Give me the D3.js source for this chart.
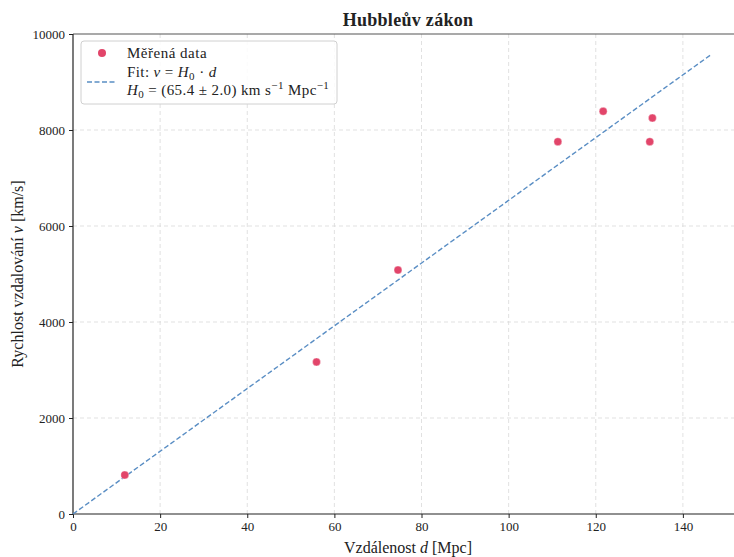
<!DOCTYPE html>
<html><head><meta charset="utf-8">
<script src="https://cdn.jsdelivr.net/npm/d3@7"></script>
<style>
body{margin:0;background:#fff;}
text{font-family:"Liberation Serif","DejaVu Serif",serif;fill:#222;}
</style></head>
<body><svg id="c" width="734" height="557"></svg>
<script>
const distances = [11.9, 55.9, 74.6, 111.3, 121.7, 132.4, 133.0];
const velocities = [812, 3167, 5083, 7756, 8390, 7756, 8250];
const fitD = [0, 146.3];
const fitV = [0, 9560];
const xTicks = [0, 20, 40, 60, 80, 100, 120, 140];
const yTicks = [0, 2000, 4000, 6000, 8000, 10000];

const svg = d3.select("#c");
const L = 73, R = 743, T = 34, B = 514;
const x = d3.scaleLinear().domain([0, 153.8]).range([L, R]);
const y = d3.scaleLinear().domain([0, 10000]).range([B, T]);

// grid
const g = svg.append("g");
g.selectAll(".gx").data(xTicks.filter(t => t > 0)).enter().append("line")
  .attr("x1", d => x(d)).attr("x2", d => x(d)).attr("y1", T).attr("y2", B)
  .attr("stroke", "#d9d9d9").attr("stroke-width", 0.8).attr("stroke-dasharray", "4,3");
g.selectAll(".gy").data(yTicks.filter(t => t > 0 && t < 10000)).enter().append("line")
  .attr("x1", L).attr("x2", R).attr("y1", d => y(d)).attr("y2", d => y(d))
  .attr("stroke", "#d9d9d9").attr("stroke-width", 0.8).attr("stroke-dasharray", "4,3");

// top spine
svg.append("line").attr("x1", L).attr("x2", R).attr("y1", T).attr("y2", T)
  .attr("stroke", "#555").attr("stroke-width", 1.2);

// axes
const xAxis = d3.axisBottom(x).tickValues(xTicks).tickSize(4).tickPadding(4).tickFormat(d3.format("d"));
const yAxis = d3.axisLeft(y).tickValues(yTicks).tickSize(4).tickPadding(4).tickFormat(d3.format("d"));
const gx = svg.append("g").attr("transform", `translate(0,${B})`).call(xAxis);
const gy = svg.append("g").attr("transform", `translate(${L},0)`).call(yAxis);
[gx, gy].forEach(a => {
  a.select(".domain").attr("stroke", "#222").attr("stroke-width", 1.2);
  a.selectAll(".tick line").attr("stroke", "#222").attr("stroke-width", 1);
  a.selectAll(".tick text").style("font-family", '"Liberation Serif",serif').style("font-size", "13px").attr("fill", "#222");
});
gy.select(".domain").attr("d", `M0,${T}V${B}`);
gx.select(".domain").attr("d", `M${L},0H${R}`);

// fit line
svg.append("path")
  .datum(fitD.map((d, i) => [d, fitV[i]]))
  .attr("d", d3.line().x(d => x(d[0])).y(d => y(d[1])))
  .attr("fill", "none").attr("stroke", "#5a8ec4").attr("stroke-width", 1.4)
  .attr("stroke-dasharray", "5,2.5");

// points
svg.selectAll(".pt").data(distances).enter().append("circle")
  .attr("cx", d => x(d)).attr("cy", (d, i) => y(velocities[i])).attr("r", 4)
  .attr("fill", "#e2456a").attr("stroke", "#fff").attr("stroke-opacity", 0.6).attr("stroke-width", 0.6);

// title
svg.append("text").attr("x", (L + R) / 2).attr("y", 26).attr("text-anchor", "middle")
  .style("font-size", "18px").style("font-weight", "bold").style("letter-spacing", "0.3px").text("Hubbleův zákon");

// x label
const xl = svg.append("text").attr("x", (L + R) / 2).attr("y", 553).attr("text-anchor", "middle")
  .style("font-size", "16px");
xl.append("tspan").text("Vzdálenost ");
xl.append("tspan").style("font-style", "italic").text("d");
xl.append("tspan").text(" [Mpc]");

// y label
const yl = svg.append("text").attr("transform", `translate(23,${(T + B) / 2}) rotate(-90)`)
  .attr("text-anchor", "middle").style("font-size", "16px");
yl.append("tspan").text("Rychlost vzdalování ");
yl.append("tspan").style("font-style", "italic").text("v");
yl.append("tspan").text(" [km/s]");

// legend
const lg = svg.append("g");
lg.append("rect").attr("x", 81).attr("y", 41).attr("width", 256).attr("height", 63)
  .attr("rx", 3).attr("fill", "#fff").attr("fill-opacity", 0.85).attr("stroke", "#d0d0d0").attr("stroke-width", 1);
lg.append("circle").attr("cx", 102).attr("cy", 53).attr("r", 4).attr("fill", "#e2456a");
lg.append("line").attr("x1", 87).attr("x2", 116).attr("y1", 82).attr("y2", 82)
  .attr("stroke", "#5a8ec4").attr("stroke-width", 1.4).attr("stroke-dasharray", "5,2.5");
lg.append("text").attr("x", 127).attr("y", 58).style("font-size", "15px").style("letter-spacing", "0.5px").text("Měřená data");
const t2 = lg.append("text").attr("x", 127).attr("y", 77).style("font-size", "15px").style("letter-spacing", "0.4px");
t2.append("tspan").text("Fit: ");
t2.append("tspan").style("font-style", "italic").text("v");
t2.append("tspan").text(" = ");
t2.append("tspan").style("font-style", "italic").text("H");
t2.append("tspan").attr("dy", 3).style("font-size", "11px").text("0");
t2.append("tspan").attr("dy", -3).text(" · ");
t2.append("tspan").style("font-style", "italic").text("d");
const t3 = lg.append("text").attr("x", 127).attr("y", 95).style("font-size", "15px").style("letter-spacing", "0.4px");
t3.append("tspan").style("font-style", "italic").text("H");
t3.append("tspan").attr("dy", 3).style("font-size", "11px").text("0");
t3.append("tspan").attr("dy", -3).text(" = (65.4 ± 2.0) km s");
t3.append("tspan").attr("dy", -6).style("font-size", "11px").text("−1");
t3.append("tspan").attr("dy", 6).text(" Mpc");
t3.append("tspan").attr("dy", -6).style("font-size", "11px").text("−1");
</script></body></html>
